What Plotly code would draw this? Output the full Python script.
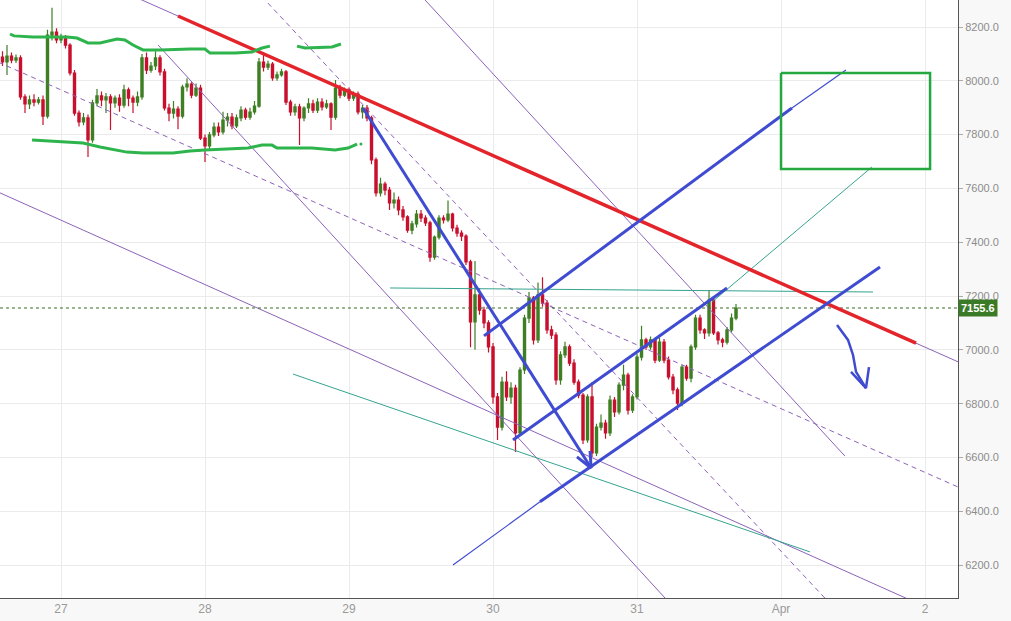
import pandas as pd
import plotly.graph_objects as go

# ---------------- candle data (45-minute bars, BTC/USD, March 2018) ----------------
bar_start = "2018-03-26 14:15"
bar_freq = "45min"

opens = [8088, 8070, 8092, 8077, 8085, 7940, 7914, 7929, 7921, 7929,
         7869, 8170, 8181, 8152, 8159, 8133, 8029, 7880, 7847, 7862,
         7780, 7918, 7944, 7929, 7940, 7918, 7936, 7910, 7966, 7936,
         7921, 7940, 8085, 8040, 8055, 8085, 8033, 7899, 7880, 7895,
         7869, 7977, 7988, 7947, 7973, 7787, 7758, 7799, 7828, 7810,
         7854, 7865, 7832, 7862, 7891, 7865, 7884, 7906, 8070, 8051,
         8062, 8011, 8022, 8033, 7921, 7884, 7903, 7862, 7899, 7914,
         7891, 7921, 7903, 7914, 7865, 7973, 7947, 7966, 7936, 7951,
         7884, 7899, 7862, 7706, 7583, 7616, 7594, 7546, 7557, 7520,
         7494, 7445, 7468, 7505, 7490, 7472, 7345, 7419, 7490, 7483,
         7505, 7453, 7434, 7423, 7327, 7104, 7204, 7148, 7100, 7011,
         6825, 6713, 6880, 6825, 6858, 6691, 6925, 7118, 7193, 7037,
         7204, 7174, 7074, 7055, 6888, 6981, 7011, 6951, 6880, 6832,
         6665, 6825, 6617, 6713, 6728, 6691, 6813, 6769, 6869, 6906,
         6776, 6825, 6973, 7037, 7011, 7037, 6962, 7029, 6962, 6899,
         6851, 6802, 6936, 6895, 7011, 7118, 7074, 7063, 7185, 7063,
         7037, 7029, 7074, 7118]

highs = [8110, 8133, 8105, 8098, 8095, 7950, 7945, 7950, 7940, 7945,
         8190, 8272, 8195, 8175, 8170, 8140, 8040, 7890, 7880, 7875,
         7930, 7970, 7960, 7955, 7950, 7945, 7950, 7985, 7975, 7945,
         7960, 8100, 8105, 8070, 8110, 8095, 8045, 7915, 7925, 7905,
         7985, 8010, 7995, 7990, 7985, 7800, 7810, 7845, 7845, 7885,
         7880, 7880, 7875, 7905, 7900, 7900, 7925, 8085, 8107, 8075,
         8070, 8035, 8045, 8040, 7930, 7915, 7915, 7905, 7935, 7930,
         7935, 7935, 7930, 7920, 8003, 7985, 7975, 7975, 7960, 7960,
         7910, 7910, 7870, 7715, 7640, 7625, 7605, 7585, 7570, 7535,
         7500, 7480, 7520, 7520, 7500, 7480, 7425, 7500, 7500, 7555,
         7510, 7465, 7445, 7430, 7335, 7330, 7230, 7160, 7110, 7025,
         6840, 6900, 6920, 6880, 6870, 6935, 7130, 7215, 7200, 7250,
         7270, 7185, 7090, 7065, 6995, 7030, 7020, 6965, 6890, 6840,
         6835, 6880, 6725, 6760, 6740, 6830, 6825, 6880, 6945, 6915,
         6835, 6985, 7090, 7045, 7050, 7045, 7045, 7040, 6975, 6910,
         6860, 6945, 6945, 7020, 7130, 7130, 7080, 7222, 7195, 7070,
         7045, 7085, 7135, 7170]

lows = [8055, 8022, 8065, 8066, 7930, 7880, 7895, 7905, 7912, 7836,
        7860, 8150, 8140, 8140, 8120, 8020, 7870, 7830, 7835, 7717,
        7770, 7905, 7905, 7880, 7817, 7900, 7885, 7900, 7905, 7880,
        7905, 7930, 8025, 8030, 8040, 8020, 7890, 7850, 7860, 7820,
        7860, 7960, 7935, 7940, 7780, 7698, 7740, 7790, 7795, 7800,
        7830, 7820, 7825, 7850, 7855, 7855, 7875, 7900, 8035, 8040,
        8000, 8000, 8015, 7910, 7870, 7870, 7761, 7850, 7880, 7880,
        7880, 7890, 7895, 7817, 7855, 7935, 7940, 7925, 7925, 7875,
        7860, 7850, 7690, 7570, 7570, 7575, 7520, 7525, 7500, 7480,
        7435, 7430, 7455, 7475, 7460, 7327, 7335, 7410, 7470, 7475,
        7440, 7420, 7405, 7315, 7010, 7000, 7130, 7080, 6990, 6800,
        6665, 6700, 6810, 6800, 6620, 6680, 6910, 7100, 7020, 7025,
        7160, 7060, 7040, 6870, 6870, 6970, 6940, 6870, 6820, 6650,
        6655, 6602, 6605, 6700, 6670, 6680, 6750, 6760, 6850, 6760,
        6765, 6815, 6960, 7000, 7000, 6950, 6955, 6950, 6890, 6835,
        6776, 6790, 6885, 6880, 7000, 7060, 7040, 7050, 7055, 7020,
        7010, 7020, 7065, 7110]

closes = [8070, 8092, 8077, 8085, 7940, 7914, 7929, 7921, 7929, 7869,
          8170, 8181, 8152, 8159, 8133, 8029, 7880, 7847, 7862, 7780,
          7918, 7944, 7929, 7940, 7918, 7936, 7910, 7966, 7936, 7921,
          7940, 8085, 8040, 8055, 8085, 8033, 7899, 7880, 7895, 7869,
          7977, 7988, 7947, 7973, 7787, 7758, 7799, 7828, 7810, 7854,
          7865, 7832, 7862, 7891, 7865, 7884, 7906, 8070, 8051, 8062,
          8011, 8022, 8033, 7921, 7884, 7903, 7862, 7899, 7914, 7891,
          7921, 7903, 7914, 7865, 7973, 7947, 7966, 7936, 7951, 7884,
          7899, 7862, 7706, 7583, 7616, 7594, 7546, 7557, 7520, 7494,
          7445, 7468, 7505, 7490, 7472, 7345, 7419, 7490, 7483, 7505,
          7453, 7434, 7423, 7327, 7104, 7204, 7148, 7100, 7011, 6825,
          6713, 6880, 6825, 6858, 6691, 6925, 7118, 7193, 7037, 7204,
          7174, 7074, 7055, 6888, 6981, 7011, 6951, 6880, 6832, 6665,
          6825, 6617, 6713, 6728, 6691, 6813, 6769, 6869, 6906, 6776,
          6825, 6973, 7037, 7011, 7037, 6962, 7029, 6962, 6899, 6851,
          6802, 6936, 6895, 7011, 7118, 7074, 7063, 7185, 7063, 7037,
          7029, 7074, 7118, 7155.6]

last_price = 7155.6

# axis ticks
price_ticks = [6200, 6400, 6600, 6800, 7000, 7200, 7400, 7600, 7800, 8000, 8200]
day_ticks = [27, 28, 29, 30, 31, 32, 33]          # day-of-March (32 = 1 Apr)
day_labels = ["27", "28", "29", "30", "31", "Apr", "2"]
view_days = [26.5764, 33.229]
view_prices = [6077.6, 8300.4]

# ---------------- hand drawings: (day-of-March, price) ----------------
red_trend = [(27.8125, 8241), (32.9375, 7025)]
purple_lines = [
    [(27.50, 8315), (33.40, 6915)],
    [(29.40, 8375), (32.444, 6605)],
    [(26.507, 7600), (33.035, 6037)],
    [(27.674, 8133), (31.264, 6037)],
]
purple_dashed = [
    [(26.507, 8083), (33.521, 6421)],
    [(28.351, 8338), (32.375, 6037)],
]
teal_lines = [
    [(29.285, 7230), (32.639, 7215)],
    [(28.611, 6910), (32.201, 6249)],
    [(31.521, 7178), (32.632, 7680)],
]
blue_thick = [
    [(29.097, 7899), (30.681, 6561)],
    [(29.9375, 7052), (32.076, 7899)],
    [(30.139, 6665), (31.625, 7230)],
    [(30.326, 6435), (32.6875, 7308)],
]
blue_thin = [
    [(29.722, 6200), (30.326, 6435)],
    [(32.076, 7899), (32.451, 8040)],
]
blue_arrowhead = [(30.583, 6602), (30.681, 6561), (30.674, 6624)]
small_arrow = [(32.389, 7092), (32.465, 7037), (32.500, 6981), (32.521, 6918), (32.590, 6858)]
small_arrowhead = [(32.486, 6918), (32.590, 6858), (32.611, 6936)]
green_upper_1 = [(26.646, 8174), (26.674, 8167), (26.806, 8163), (27.042, 8163), (27.111, 8159),
                 (27.1875, 8141), (27.271, 8141), (27.389, 8155), (27.444, 8152), (27.5, 8133),
                 (27.569, 8115), (27.6875, 8115), (27.896, 8118), (28.0, 8118), (28.035, 8103),
                 (28.208, 8103), (28.326, 8107), (28.396, 8122), (28.451, 8129)]
green_upper_2 = [(28.639, 8129), (28.694, 8122), (28.882, 8126), (28.944, 8137)]
green_lower = [(26.799, 7780), (26.993, 7773), (27.153, 7769), (27.271, 7754), (27.458, 7735),
               (27.569, 7732), (27.778, 7732), (27.896, 7739), (28.0, 7743), (28.299, 7750),
               (28.396, 7761), (28.465, 7761), (28.5, 7750), (28.743, 7750), (28.903, 7743),
               (28.993, 7750), (29.056, 7765)]
green_box = [(32.0, 8029), (33.035, 8029), (33.035, 7672), (32.0, 7672), (32.0, 8029)]


def mar(d):
    return pd.Timestamp("2018-03-01") + pd.to_timedelta(d - 1, unit="D")


RED = "#e3242b"
BLUE = "#3f4bd0"
PURPLE = "#8d62b9"
TEAL = "#35a38f"
GREEN = "#2eb44c"

fig = go.Figure()

times = pd.date_range(bar_start, periods=len(closes), freq=bar_freq)


def add_line(pts, color, width, dash=None):
    fig.add_trace(go.Scatter(
        x=[mar(d) for d, _ in pts], y=[p for _, p in pts], mode="lines",
        line=dict(color=color, width=width, dash=dash),
        hoverinfo="skip", showlegend=False))


# background drawings below candles
for pts in purple_lines:
    add_line(pts, PURPLE, 1)
for pts in purple_dashed:
    add_line(pts, PURPLE, 1, "5px,4px")
for pts in teal_lines:
    add_line(pts, TEAL, 1)

# last price dotted line
add_line([(view_days[0], last_price), (view_days[1], last_price)], "#3d6b22", 1, "dot")

fig.add_trace(go.Candlestick(
    x=times, open=opens, high=highs, low=lows, close=closes,
    increasing=dict(line=dict(color="#3f7f24", width=1.2), fillcolor="#3f7f24"),
    decreasing=dict(line=dict(color="#c8102e", width=1.2), fillcolor="#c8102e"),
    whiskerwidth=0, hoverinfo="skip", showlegend=False))

add_line(red_trend, RED, 3.5)
for pts in blue_thin:
    add_line(pts, BLUE, 1.2)
for pts in blue_thick:
    add_line(pts, BLUE, 3)
add_line(blue_arrowhead, BLUE, 3)
add_line(small_arrow, BLUE, 2.5)
add_line(small_arrowhead, BLUE, 2.5)
add_line(green_upper_1, GREEN, 3)
add_line(green_upper_2, GREEN, 3)
add_line(green_lower, GREEN, 3)
add_line(green_box, "#22a83f", 2.5)
fig.add_trace(go.Scatter(x=[mar(29.083)], y=[7765], mode="markers",
                         marker=dict(color=GREEN, size=3), hoverinfo="skip", showlegend=False))

fig.add_annotation(
    x=1.0, xref="paper", y=last_price, yref="y", xanchor="left", yanchor="middle",
    text="<b>7155.6</b>", showarrow=False, bgcolor="#3b7a27", borderpad=2,
    font=dict(color="white", size=11, family="Liberation Sans, Arial, sans-serif"))

fig.update_layout(
    width=1011, height=621,
    margin=dict(l=0, r=53, t=0, b=23),
    paper_bgcolor="#f8f8f8", plot_bgcolor="#ffffff",
    showlegend=False, hovermode=False,
    xaxis=dict(
        type="date", range=[mar(view_days[0]), mar(view_days[1])],
        tickvals=[mar(d) for d in day_ticks], ticktext=day_labels,
        showgrid=True, gridcolor="#ebebeb", gridwidth=1,
        showline=True, linecolor="#555555", linewidth=1,
        ticks="", zeroline=False, rangeslider=dict(visible=False),
        tickfont=dict(size=12, color="#9a9a9a", family="Liberation Sans Narrow, Liberation Sans, Arial"),
    ),
    yaxis=dict(
        side="right", range=view_prices, tickvals=price_ticks, tickformat=".1f",
        showgrid=True, gridcolor="#ebebeb", gridwidth=1,
        showline=True, linecolor="#555555", linewidth=1,
        ticks="outside", ticklen=4, tickcolor="#aaaaaa", zeroline=False,
        tickfont=dict(size=11, color="#8c8c8c", family="Liberation Sans, Arial"),
    ),
)

fig.write_html(
    "out.html",
    config={"displayModeBar": False, "staticPlot": True},
    post_script="document.body.style.margin='0';document.body.style.overflow='hidden';",
)
